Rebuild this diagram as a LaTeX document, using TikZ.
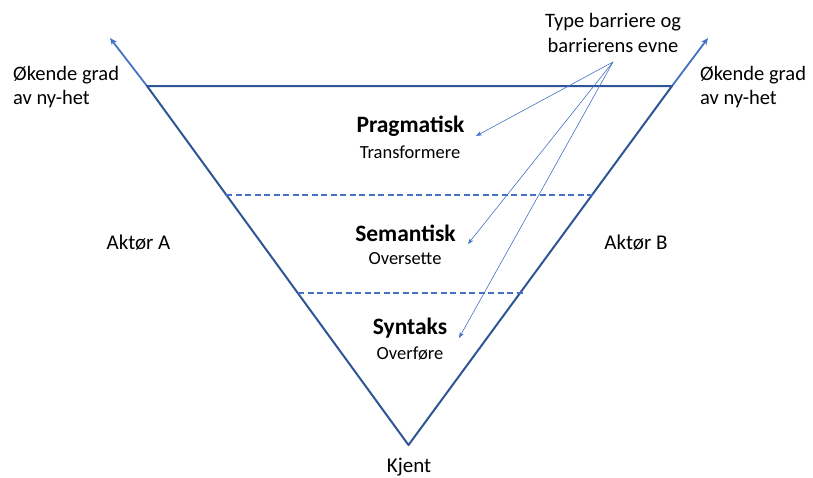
\documentclass[tikz,border=0pt]{standalone}
\usepackage{fontspec}
\setmainfont{Carlito}
\usetikzlibrary{arrows.meta}
\definecolor{darkblue}{HTML}{2F5597}
\definecolor{midblue}{HTML}{4472C4}
\begin{document}
\begin{tikzpicture}[x=1pt,y=-1pt,
  side/.style={draw=darkblue,line width=2pt},
  ext/.style={draw=midblue,line width=1.8pt,-{Stealth[length=7pt,width=6pt]}},
  level/.style={draw=midblue,line width=1.8pt,dash pattern=on 6pt off 3.5pt},
  note/.style={draw=midblue,line width=0.6pt,-{Stealth[length=6pt,width=4.5pt]}},
  big/.style={font=\fontsize{20.5}{24.5}\selectfont,inner sep=0pt},
  head/.style={font=\fontsize{23.5}{28}\selectfont\bfseries,inner sep=0pt},
  sub/.style={font=\fontsize{18.5}{22}\selectfont,inner sep=0pt},
  txt/.style={font=\fontsize{21}{24}\selectfont,inner sep=0pt}]
\useasboundingbox (0,0) rectangle (813,477);
% geometry
\coordinate (v) at (408.5,445);
\coordinate (tl) at (147,86);
\coordinate (tr) at (672,86);
\coordinate (atl) at (110,38);
\coordinate (atr) at (708,38);
\coordinate (d1l) at (226,195);
\coordinate (d1r) at (594,195);
\coordinate (d2l) at (298,293);
\coordinate (d2r) at (523,293);
% extensions
\draw[ext] (tl) -- (atl);
\draw[ext] (tr) -- (atr);
% triangle
\draw[side,line join=round] (tl) -- (v) -- (tr) -- cycle;
% levels
\draw[level] (d1l) -- (d1r);
\draw[level] (d2l) -- (d2r);
% texts
\node[big,anchor=west,align=left] (okl) at (13,87) {Økende grad\\av ny-het};
\node[big,anchor=west,align=left] (okr) at (700,87) {Økende grad\\av ny-het};
\node[big,align=center] (type) at (613,33) {Type barriere og\\barrierens evne};
\node[head] (prag) at (410.5,126) {Pragmatisk};
\node[sub] (trans) at (410,152) {Transformere};
\node[head] (sem) at (405.5,233) {Semantisk};
\node[sub] (overs) at (405,259) {Oversette};
\node[head] (syn) at (410,328) {Syntaks};
\node[sub] (overf) at (410,353) {Overføre};
\node[txt] (aa) at (138.5,243) {Aktør A};
\node[txt] (ab) at (636,243) {Aktør B};
\node[txt] (kj) at (409,467) {Kjent};
% annotation arrows
\coordinate (src) at (613,62);
\coordinate (tp) at (476,136);
\coordinate (ts) at (468,244);
\coordinate (ty) at (459,338);
\draw[note] (src) -- (tp);
\draw[note] (src) -- (ts);
\draw[note] (src) -- (ty);
\end{tikzpicture}
\end{document}
